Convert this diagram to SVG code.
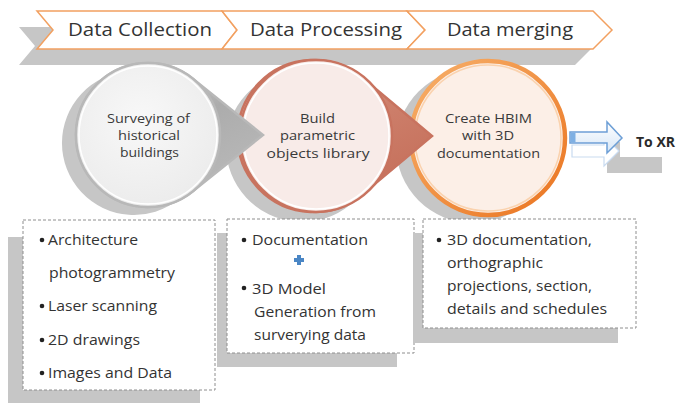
<svg xmlns="http://www.w3.org/2000/svg" width="677" height="403" viewBox="0 0 677 403">
<defs>
<style>
.sh{fill:#c6c6c6}
.ban{fill:#fff;stroke:#f2a060;stroke-width:1.5;stroke-linejoin:miter}
.bt{font-family:"Open Sans","Liberation Sans",sans-serif;font-size:18px;fill:#333}
.ct{font-family:"Open Sans","Liberation Sans",sans-serif;font-size:13.5px;fill:#3a3a3a;text-anchor:middle}
.box{fill:#fff;stroke:#8e8e8e;stroke-width:1;stroke-dasharray:3 2}
.tx{font-family:"Open Sans","Liberation Sans",sans-serif;font-size:15px;fill:#333}
.bul{fill:#222}
</style>
<linearGradient id="w1" x1="0" y1="0" x2="0.6" y2="1">
<stop offset="0" stop-color="#e4e4e4"/><stop offset="0.55" stop-color="#acacac"/><stop offset="1" stop-color="#b9b9b9"/>
</linearGradient>
<linearGradient id="w2" x1="0" y1="0" x2="0.6" y2="1">
<stop offset="0" stop-color="#f0cfc6"/><stop offset="0.55" stop-color="#cd7f6b"/><stop offset="1" stop-color="#c56f5a"/>
</linearGradient>
<radialGradient id="f1" cx="0.45" cy="0.4" r="0.6">
<stop offset="0" stop-color="#f8f8f8"/><stop offset="1" stop-color="#ececec"/>
</radialGradient>
<linearGradient id="g3" x1="0" y1="0" x2="1" y2="1">
<stop offset="0" stop-color="#f7b06a"/><stop offset="1" stop-color="#ea7420"/>
</linearGradient>
<linearGradient id="ga" x1="0" y1="0" x2="0" y2="1">
<stop offset="0" stop-color="#ffffff"/><stop offset="1" stop-color="#d6e6f7"/>
</linearGradient>
</defs>

<g id="banner-shadow"><polygon class="sh" points="19,27 575,27 594,46 575,65 19,65 35,46"/></g>
<g id="step-data-collection">
<polygon class="ban" points="37,11 222,11 237,30 222,49 37,49 53,30"/>
<text class="bt" x="68" y="36" textLength="144" lengthAdjust="spacingAndGlyphs">Data Collection</text>
</g>
<g id="step-data-processing">
<polygon class="ban" points="222,11 407,11 425,30 407,49 222,49 237,30"/>
<text class="bt" x="250" y="36" textLength="152" lengthAdjust="spacingAndGlyphs">Data Processing</text>
</g>
<g id="step-data-merging">
<polygon class="ban" points="407,11 593,11 612,30 593,49 407,49 425,30"/>
<text class="bt" x="447" y="36" textLength="126" lengthAdjust="spacingAndGlyphs">Data merging</text>
</g>

<g id="circle-shadows">
<path class="sh" d="M179.1,86.9 A72,72 0 1,0 179.1,199.1 L249,143 Z"/>
<path class="sh" d="M349.6,86.8 A76,76 0 1,0 349.6,205.2 L418,144 Z"/>
<circle class="sh" cx="473" cy="146" r="77"/>
</g>

<g id="node-create-hbim">
<circle cx="488" cy="138" r="77" fill="#fcefe7" stroke="url(#g3)" stroke-width="4.5"/>
<circle cx="488" cy="138" r="73" fill="none" stroke="#fad2ae" stroke-width="1.5"/>
<text class="ct" x="488.5" y="123" textLength="87" lengthAdjust="spacingAndGlyphs">Create HBIM</text>
<text class="ct" x="488" y="140" textLength="52" lengthAdjust="spacingAndGlyphs">with 3D</text>
<text class="ct" x="488.5" y="158" textLength="103" lengthAdjust="spacingAndGlyphs">documentation</text>
</g>

<g id="node-build-library">
<path d="M363.6,78.8 A76,76 0 1,0 363.6,193.2 L432,136 Z" fill="url(#w2)" stroke="#c8735f" stroke-width="2.5" stroke-linejoin="miter"/>
<circle cx="316" cy="136" r="76" fill="#f8ebe8" stroke="#c8735f" stroke-width="2.5"/>
<circle cx="316" cy="136" r="73" fill="none" stroke="#fff" stroke-width="1.5"/>
<text class="ct" x="317.5" y="123" textLength="35" lengthAdjust="spacingAndGlyphs">Build</text>
<text class="ct" x="317.5" y="140" textLength="75" lengthAdjust="spacingAndGlyphs">parametric</text>
<text class="ct" x="318" y="158" textLength="103" lengthAdjust="spacingAndGlyphs">objects library</text>
</g>

<g id="node-surveying">
<path d="M193.1,78.9 A72,72 0 1,0 193.1,191.1 L263,135 Z" fill="url(#w1)" stroke="#b8b8b8" stroke-width="2.5" stroke-linejoin="miter"/>
<circle cx="148" cy="135" r="72" fill="url(#f1)" stroke="#b8b8b8" stroke-width="2.5"/>
<circle cx="148" cy="135" r="69" fill="none" stroke="#fff" stroke-width="1.5"/>
<text class="ct" x="148.5" y="123" textLength="83" lengthAdjust="spacingAndGlyphs">Surveying of</text>
<text class="ct" x="149" y="140" textLength="62" lengthAdjust="spacingAndGlyphs">historical</text>
<text class="ct" x="149.5" y="157" textLength="59" lengthAdjust="spacingAndGlyphs">buildings</text>
</g>

<g id="box-collection">
<rect class="sh" x="8" y="237" width="192" height="166"/>
<rect class="box" x="23" y="220" width="192" height="170"/>
<circle class="bul" cx="42" cy="240" r="2.3"/>
<text class="tx" x="48" y="245" textLength="90" lengthAdjust="spacingAndGlyphs">Architecture</text>
<text class="tx" x="49" y="278" textLength="126" lengthAdjust="spacingAndGlyphs">photogrammetry</text>
<circle class="bul" cx="42" cy="306" r="2.3"/>
<text class="tx" x="48" y="311" textLength="109" lengthAdjust="spacingAndGlyphs">Laser scanning</text>
<circle class="bul" cx="42" cy="340" r="2.3"/>
<text class="tx" x="48" y="345" textLength="92" lengthAdjust="spacingAndGlyphs">2D drawings</text>
<circle class="bul" cx="42" cy="373" r="2.3"/>
<text class="tx" x="48" y="378" textLength="124" lengthAdjust="spacingAndGlyphs">Images and Data</text>
</g>

<g id="box-processing">
<rect class="sh" x="217" y="233" width="180" height="134"/>
<rect class="box" x="227" y="219" width="187" height="134"/>
<circle class="bul" cx="244" cy="240" r="2.3"/>
<text class="tx" x="252" y="245" textLength="116" lengthAdjust="spacingAndGlyphs">Documentation</text>
<path d="M297,255 h4 v3 h3 v4 h-3 v3 h-4 v-3 h-3 v-4 h3 Z" fill="#4a86c5"/>
<circle class="bul" cx="244" cy="288" r="2.3"/>
<text class="tx" x="252" y="294" textLength="74" lengthAdjust="spacingAndGlyphs">3D Model</text>
<text class="tx" x="254" y="317" textLength="122" lengthAdjust="spacingAndGlyphs">Generation from</text>
<text class="tx" x="254" y="340" textLength="112" lengthAdjust="spacingAndGlyphs">surverying data</text>
</g>

<g id="box-merging">
<rect class="sh" x="413" y="233" width="205" height="110"/>
<rect class="box" x="423" y="219" width="213" height="109"/>
<circle class="bul" cx="439" cy="240" r="2.3"/>
<text class="tx" x="447" y="245" textLength="145" lengthAdjust="spacingAndGlyphs">3D documentation,</text>
<text class="tx" x="447" y="268" textLength="96" lengthAdjust="spacingAndGlyphs">orthographic</text>
<text class="tx" x="447" y="291" textLength="145" lengthAdjust="spacingAndGlyphs">projections, section,</text>
<text class="tx" x="447" y="314" textLength="160" lengthAdjust="spacingAndGlyphs">details and schedules</text>
</g>

<g id="node-to-xr">
<path class="sh" d="M607,142 H620 V157 H662 V173 H607 Z"/>
<text x="636" y="147" font-family="Open Sans, Liberation Sans, sans-serif" font-size="15" font-weight="bold" fill="#2a2a2a" textLength="39" lengthAdjust="spacingAndGlyphs">To XR</text>
</g>

<g id="connectors">
<path d="M572,145 H604 V136 L619,151 L604,166 V157 H572 Z" fill="#fff" stroke="#c9dbf0" stroke-width="1.2"/>
<path d="M570,132 H607 V122 L622,138 L607,153 V143 H570 Z" fill="url(#ga)" stroke="#6d9fd6" stroke-width="1.5"/>
<rect x="570.5" y="132.5" width="5" height="10" fill="#7fb0e3"/>
</g>
</svg>
